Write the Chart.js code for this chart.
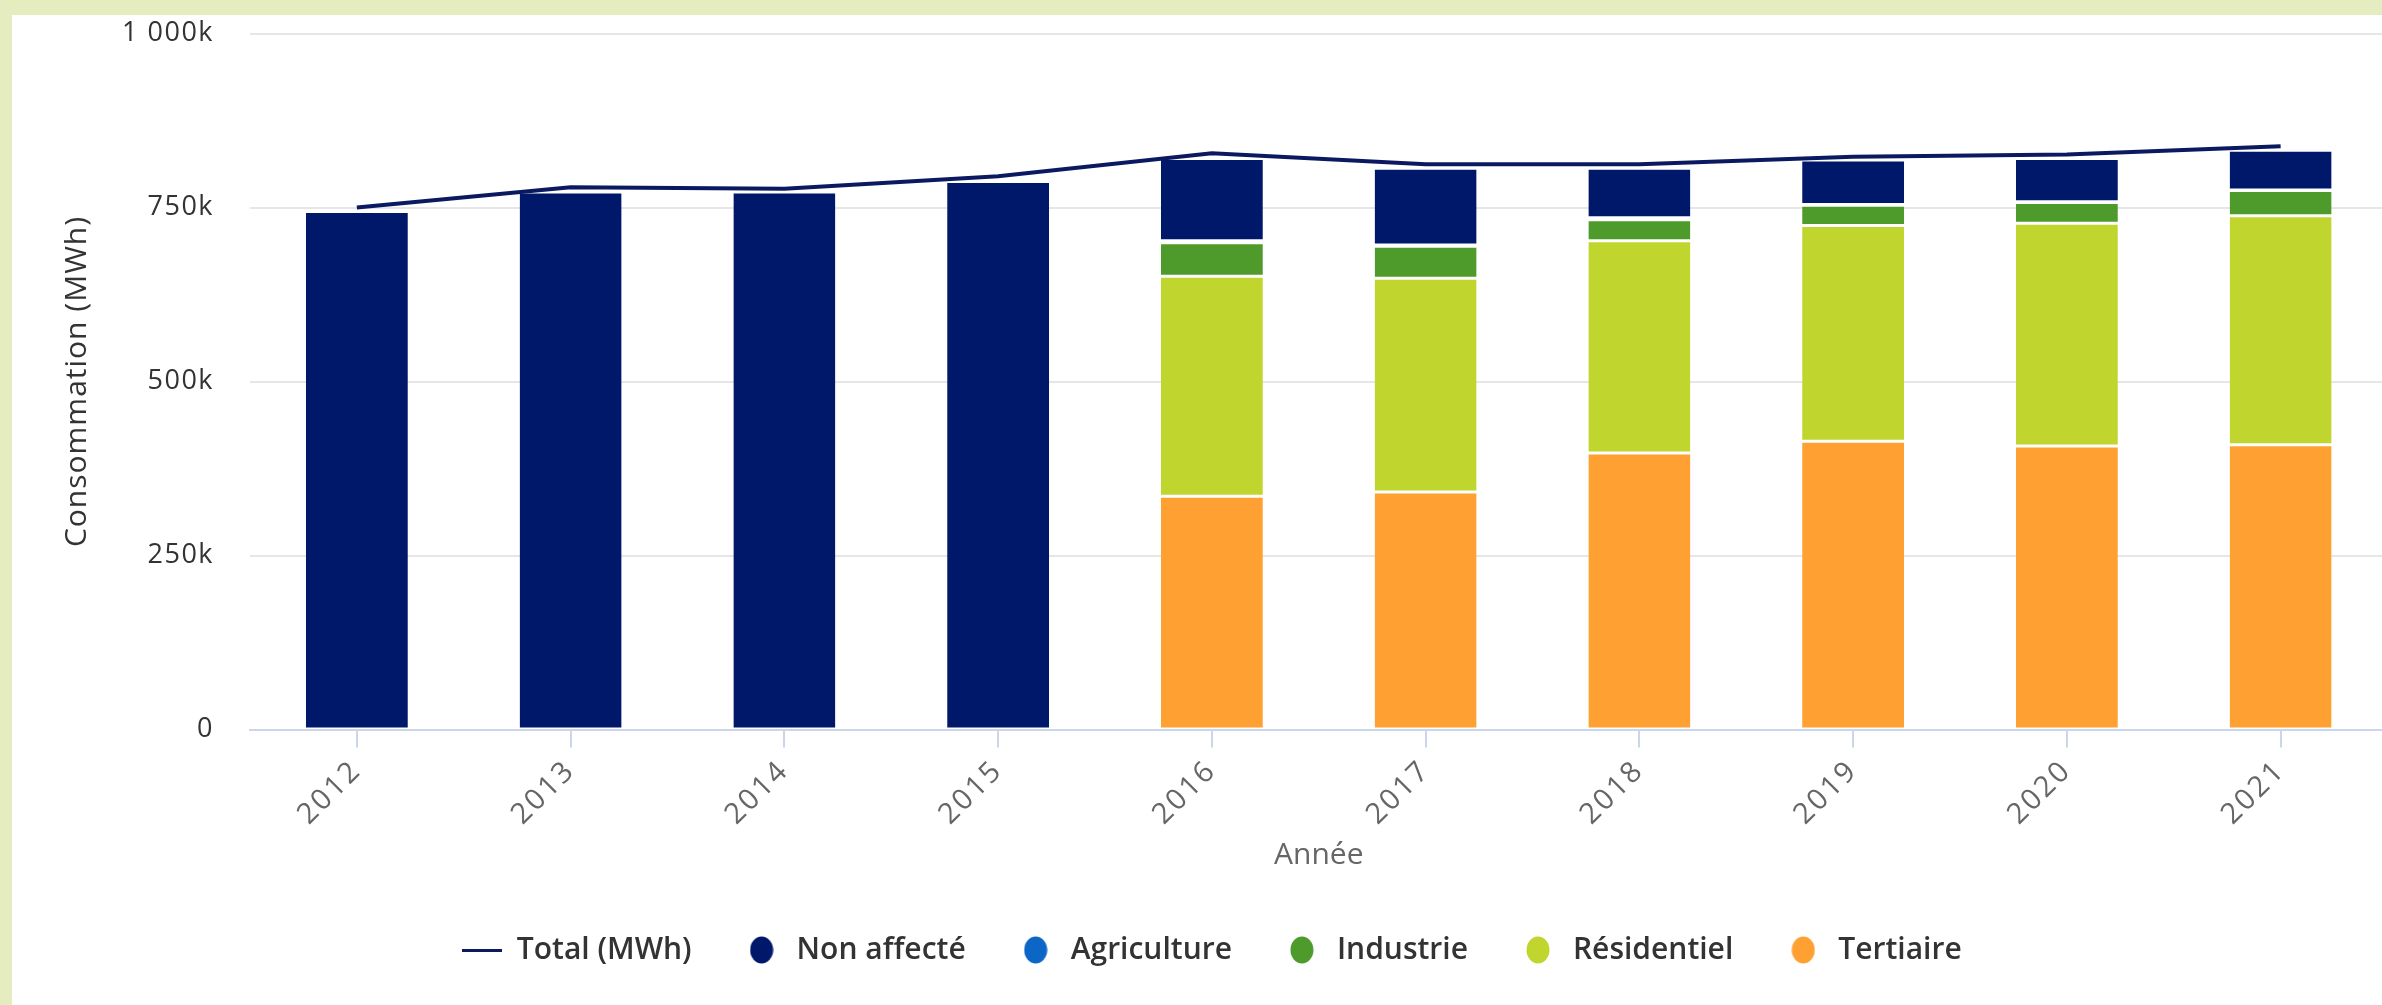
<!DOCTYPE html>
<html lang="fr">
<head>
    <meta charset="UTF-8">
    <title>Consommation par secteur</title>
    <script src="https://cdn.jsdelivr.net/npm/chart.js"></script>
    <style>
        body {
            margin: 0;
            background-color: #e4ecc0;
            overflow: hidden;
        }

        /* white card holding the chart, it runs off the right edge */
        .chart-panel {
            position: absolute;
            left: 12px;
            top: 15px;
            width: 2400px;
            height: 990px;
            background-color: #ffffff;
        }

        canvas {
            display: block;
        }
    </style>
</head>
<body>
    <div class="chart-panel">
        <canvas id="consoChart" width="2390" height="990"></canvas>
    </div>

    <script>
        // Consumption per sector, MWh
        const years = ['2012', '2013', '2014', '2015', '2016', '2017', '2018', '2019', '2020', '2021'];
        const nonAffecte  = [745000, 773000, 773000, 788000, 118000, 110000, 71000, 64000, 62000, 57000];
        const agriculture = [null, null, null, null, 3000, 2000, 3000, 1000, 1000, 1000];
        const industrie   = [null, null, null, null, 48000, 46000, 30000, 29000, 30000, 36000];
        const residentiel = [null, null, null, null, 316000, 307000, 305000, 310000, 320000, 329000];
        const tertiaire   = [null, null, null, null, 336000, 342000, 398000, 415000, 408000, 410000];
        const total       = [750000, 779000, 777000, 795000, 828000, 812000, 812000, 823000, 826000, 838000];
        const yTickLabels = ['0', '250k', '500k', '750k', '1 000k'];

        const FONT = "'Open Sans', sans-serif";

        // legend symbols drawn as small images
        function dotSymbol(color) {
            const c = document.createElement('canvas');
            c.width = 24;
            c.height = 28;
            const g = c.getContext('2d');
            g.fillStyle = color;
            g.beginPath();
            g.ellipse(12, 14, 11.5, 13.5, 0, 0, Math.PI * 2);
            g.fill();
            return c;
        }

        function lineSymbol(color) {
            const c = document.createElement('canvas');
            c.width = 40;
            c.height = 3;
            const g = c.getContext('2d');
            g.fillStyle = color;
            g.fillRect(0, 0, 40, 3);
            return c;
        }

        function barSet(label, data, color) {
            return {
                type: 'bar',
                label: label,
                data: data,
                backgroundColor: color,
                borderColor: '#ffffff',
                borderWidth: { top: 2, bottom: 1, left: 0, right: 0 },
                borderSkipped: false,
                barPercentage: 0.477,
                categoryPercentage: 1,
                pointStyle: dotSymbol(color),
                order: 1
            };
        }

        // run a scale drawing method with extra spacing between letters
        function spaced(scale, method, spacing) {
            const original = scale[method].bind(scale);
            scale[method] = function (area) {
                const c = scale.ctx;
                c.save();
                c.letterSpacing = spacing;
                original(area);
                c.restore();
            };
        }

        const ctx = document.getElementById('consoChart').getContext('2d');

        // stacking goes bottom-up in dataset order, the legend lists them reversed
        const chart = new Chart(ctx, {
            data: {
                labels: years,
                datasets: [
                    barSet('Tertiaire', tertiaire, '#ffa033'),
                    barSet('Résidentiel', residentiel, '#c0d62e'),
                    barSet('Industrie', industrie, '#4e9b2c'),
                    barSet('Agriculture', agriculture, '#0b66c6'),
                    barSet('Non affecté', nonAffecte, '#00186a'),
                    {
                        type: 'line',
                        label: 'Total (MWh)',
                        data: total,
                        stack: 'total',
                        borderColor: '#0b1a60',
                        backgroundColor: '#0b1a60',
                        borderWidth: 4,
                        tension: 0,
                        pointRadius: 0,
                        fill: false,
                        pointStyle: lineSymbol('#0b1a60'),
                        order: 0
                    }
                ]
            },
            options: {
                responsive: false,
                animation: false,
                layout: {
                    padding: { top: 18.5, left: 24, right: 14.5, bottom: 30 }
                },
                plugins: {
                    tooltip: { enabled: false },
                    legend: {
                        position: 'bottom',
                        labels: {
                            usePointStyle: true,
                            pointStyleWidth: 40,
                            padding: 50,
                            color: '#333333',
                            font: { family: FONT, size: 30, weight: '600' },
                            sort: (a, b) => b.datasetIndex - a.datasetIndex
                        }
                    }
                },
                scales: {
                    x: {
                        stacked: true,
                        afterFit: (scale) => { scale.height = 155.5; },
                        border: { color: '#ccd6eb', width: 2 },
                        grid: {
                            offset: false,
                            drawOnChartArea: false,
                            color: '#ccd6eb',
                            lineWidth: 2,
                            tickLength: 18
                        },
                        ticks: {
                            minRotation: 45,
                            maxRotation: 45,
                            padding: 6,
                            color: '#666666',
                            font: { family: FONT, size: 29 }
                        },
                        title: {
                            display: true,
                            text: 'Année',
                            color: '#666666',
                            padding: { top: 0, bottom: 12 },
                            font: { family: FONT, size: 30 }
                        }
                    },
                    y: {
                        stacked: true,
                        min: 0,
                        max: 1000000,
                        afterFit: (scale) => {
                            scale.width = 214;
                            // keep the plot top on the layout padding
                            scale.paddingTop = 0;
                            scale.paddingBottom = 0;
                        },
                        border: { display: false },
                        grid: {
                            color: '#e6e6e6',
                            lineWidth: 2,
                            drawTicks: false
                        },
                        ticks: {
                            stepSize: 250000,
                            padding: 36,
                            color: '#333333',
                            font: { family: FONT, size: 27 },
                            callback: (value, index) => yTickLabels[index]
                        },
                        title: {
                            display: true,
                            text: 'Consommation (MWh)',
                            color: '#333333',
                            padding: { top: 23, bottom: 0 },
                            font: { family: FONT, size: 30 }
                        }
                    }
                }
            }
        });

        spaced(chart.scales.y, 'drawTitle', '1px');
        spaced(chart.scales.y, 'drawLabels', '1.5px');
        spaced(chart.scales.x, 'drawLabels', '2.5px');
        chart.draw();
    </script>
</body>
</html>
